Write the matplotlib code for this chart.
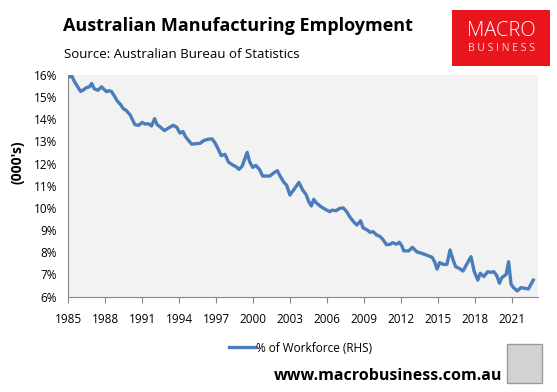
import numpy as np
import matplotlib.pyplot as plt
from matplotlib.patches import Rectangle

plt.rcParams['font.family'] = ['Open Sans', 'DejaVu Sans']

# manufacturing employment as % of workforce
years = [1985.0, 1985.3, 1985.5, 1986.0, 1986.2, 1986.5, 1986.7, 1986.9, 1987.1, 1987.4,
         1987.7, 1987.9, 1988.1, 1988.3, 1988.5, 1988.7, 1989.0, 1989.25, 1989.46, 1989.7,
         1990.0, 1990.2, 1990.4, 1990.7, 1991.0, 1991.2, 1991.5, 1991.75, 1992.0, 1992.2,
         1992.4, 1992.8, 1993.1, 1993.5, 1993.8, 1994.05, 1994.3, 1994.5, 1994.7, 1995.0,
         1995.4, 1995.7, 1996.0, 1996.35, 1996.65, 1996.87, 1997.1, 1997.4, 1997.7, 1998.0,
         1998.33, 1998.6, 1998.84, 1999.1, 1999.5, 1999.7, 1999.95, 2000.2, 2000.5, 2000.76,
         2001.1, 2001.35, 2001.6, 2001.95, 2002.2, 2002.5, 2002.7, 2002.97, 2003.35, 2003.7,
         2004.0, 2004.27, 2004.5, 2004.7, 2004.9, 2005.1, 2005.5, 2005.8, 2006.2, 2006.4,
         2006.7, 2007.0, 2007.3, 2007.57, 2007.84, 2008.2, 2008.4, 2008.7, 2008.9, 2009.25,
         2009.46, 2009.7, 2010.0, 2010.3, 2010.5, 2010.8, 2011.1, 2011.3, 2011.6, 2011.84,
         2012.05, 2012.2, 2012.6, 2012.9, 2013.25, 2013.65, 2014.06, 2014.5, 2014.7, 2014.9,
         2015.1, 2015.4, 2015.7, 2015.95, 2016.2, 2016.4, 2016.7, 2017.0, 2017.3, 2017.65,
         2017.9, 2018.2, 2018.4, 2018.7, 2019.0, 2019.25, 2019.5, 2019.75, 2019.96, 2020.15,
         2020.5, 2020.7, 2020.9, 2021.1, 2021.4, 2021.7, 2022.0, 2022.3, 2022.7]
share = [15.91, 15.94, 15.70, 15.26, 15.32, 15.44, 15.46, 15.62, 15.38, 15.31,
         15.47, 15.35, 15.25, 15.29, 15.26, 15.08, 14.81, 14.66, 14.48, 14.40,
         14.21, 13.98, 13.76, 13.73, 13.86, 13.79, 13.80, 13.70, 14.03, 13.76,
         13.68, 13.49, 13.60, 13.73, 13.64, 13.38, 13.45, 13.22, 13.08, 12.88,
         12.90, 12.92, 13.05, 13.10, 13.12, 12.96, 12.72, 12.36, 12.42, 12.06,
         11.94, 11.86, 11.74, 11.89, 12.51, 12.09, 11.83, 11.92, 11.74, 11.44,
         11.44, 11.44, 11.56, 11.68, 11.41, 11.14, 11.03, 10.58, 10.88, 11.15,
         10.81, 10.61, 10.28, 10.09, 10.39, 10.23, 10.05, 9.95, 9.83, 9.90,
         9.87, 9.98, 10.00, 9.83, 9.58, 9.33, 9.23, 9.42, 9.10, 9.00,
         8.90, 8.93, 8.78, 8.70, 8.58, 8.34, 8.36, 8.43, 8.36, 8.45,
         8.28, 8.06, 8.06, 8.22, 8.02, 7.95, 7.87, 7.77, 7.57, 7.24,
         7.53, 7.45, 7.45, 8.10, 7.65, 7.35, 7.27, 7.15, 7.45, 7.80,
         7.15, 6.74, 7.05, 6.90, 7.12, 7.09, 7.12, 6.93, 6.60, 6.85,
         7.00, 7.57, 6.55, 6.40, 6.25, 6.40, 6.37, 6.34, 6.74]

tick_years = list(range(1985, 2022, 3))
y_ticks = list(range(6, 17))

fig = plt.figure(figsize=(5.57, 3.92), dpi=100)
ax = fig.add_axes([0.1226, 0.2436, 0.8428, 0.565])
ax.set_facecolor('#F2F2F2')

ax.plot(years, share, color='#4A7EBB', lw=2.4, solid_joinstyle='round',
        label='% of Workforce (RHS)')

ax.set_xlim(1985, 2023.06)
ax.set_ylim(6, 16)
ax.set_xticks(tick_years)
ax.set_xticklabels([str(y) for y in tick_years], fontsize=8.5)
ax.set_yticks(y_ticks)
ax.set_yticklabels(['{}%'.format(v) for v in y_ticks], fontsize=8.5)
ax.tick_params(axis='x', direction='out', length=4, color='#888888', pad=8)
ax.tick_params(axis='y', length=0, pad=8)
for s in ['top', 'right']:
    ax.spines[s].set_visible(False)
ax.spines['left'].set_color('#888888')
ax.spines['bottom'].set_color('#888888')

fig.text(0.031, 0.587, "(000's)", rotation=90, fontsize=10, fontweight='bold',
         ha='center', va='center')

fig.text(0.114, 0.934, 'Australian Manufacturing Employment', fontsize=13,
         fontweight='bold', ha='left', va='center')
fig.text(0.115, 0.862, 'Source: Australian Bureau of Statistics', fontsize=9.5,
         ha='left', va='center')

# logo box
fig.patches.append(Rectangle((0.811, 0.832), 0.177, 0.143, transform=fig.transFigure,
                             facecolor='#E8161C', edgecolor='none'))
fig.text(0.8995, 0.921, 'MACRO', color='white', fontsize=14.5, ha='center', va='center',
         fontweight='light')
fig.text(0.8995, 0.877, 'B U S I N E S S', color='#FBD0D0', fontsize=7.5, ha='center',
         va='center')

leg = fig.legend(loc='center', bbox_to_anchor=(0.54, 0.112), frameon=False,
                 fontsize=8.5, handlelength=2.2, handletextpad=0.1)

fig.text(0.901, 0.041, 'www.macrobusiness.com.au', fontsize=11.5, fontweight='bold',
         ha='right', va='center')
fig.patches.append(Rectangle((0.911, 0.022), 0.062, 0.101, transform=fig.transFigure,
                             facecolor='#D2D2D2', edgecolor='#9A9A9A', lw=1))

fig.savefig('out.png', dpi=100)
